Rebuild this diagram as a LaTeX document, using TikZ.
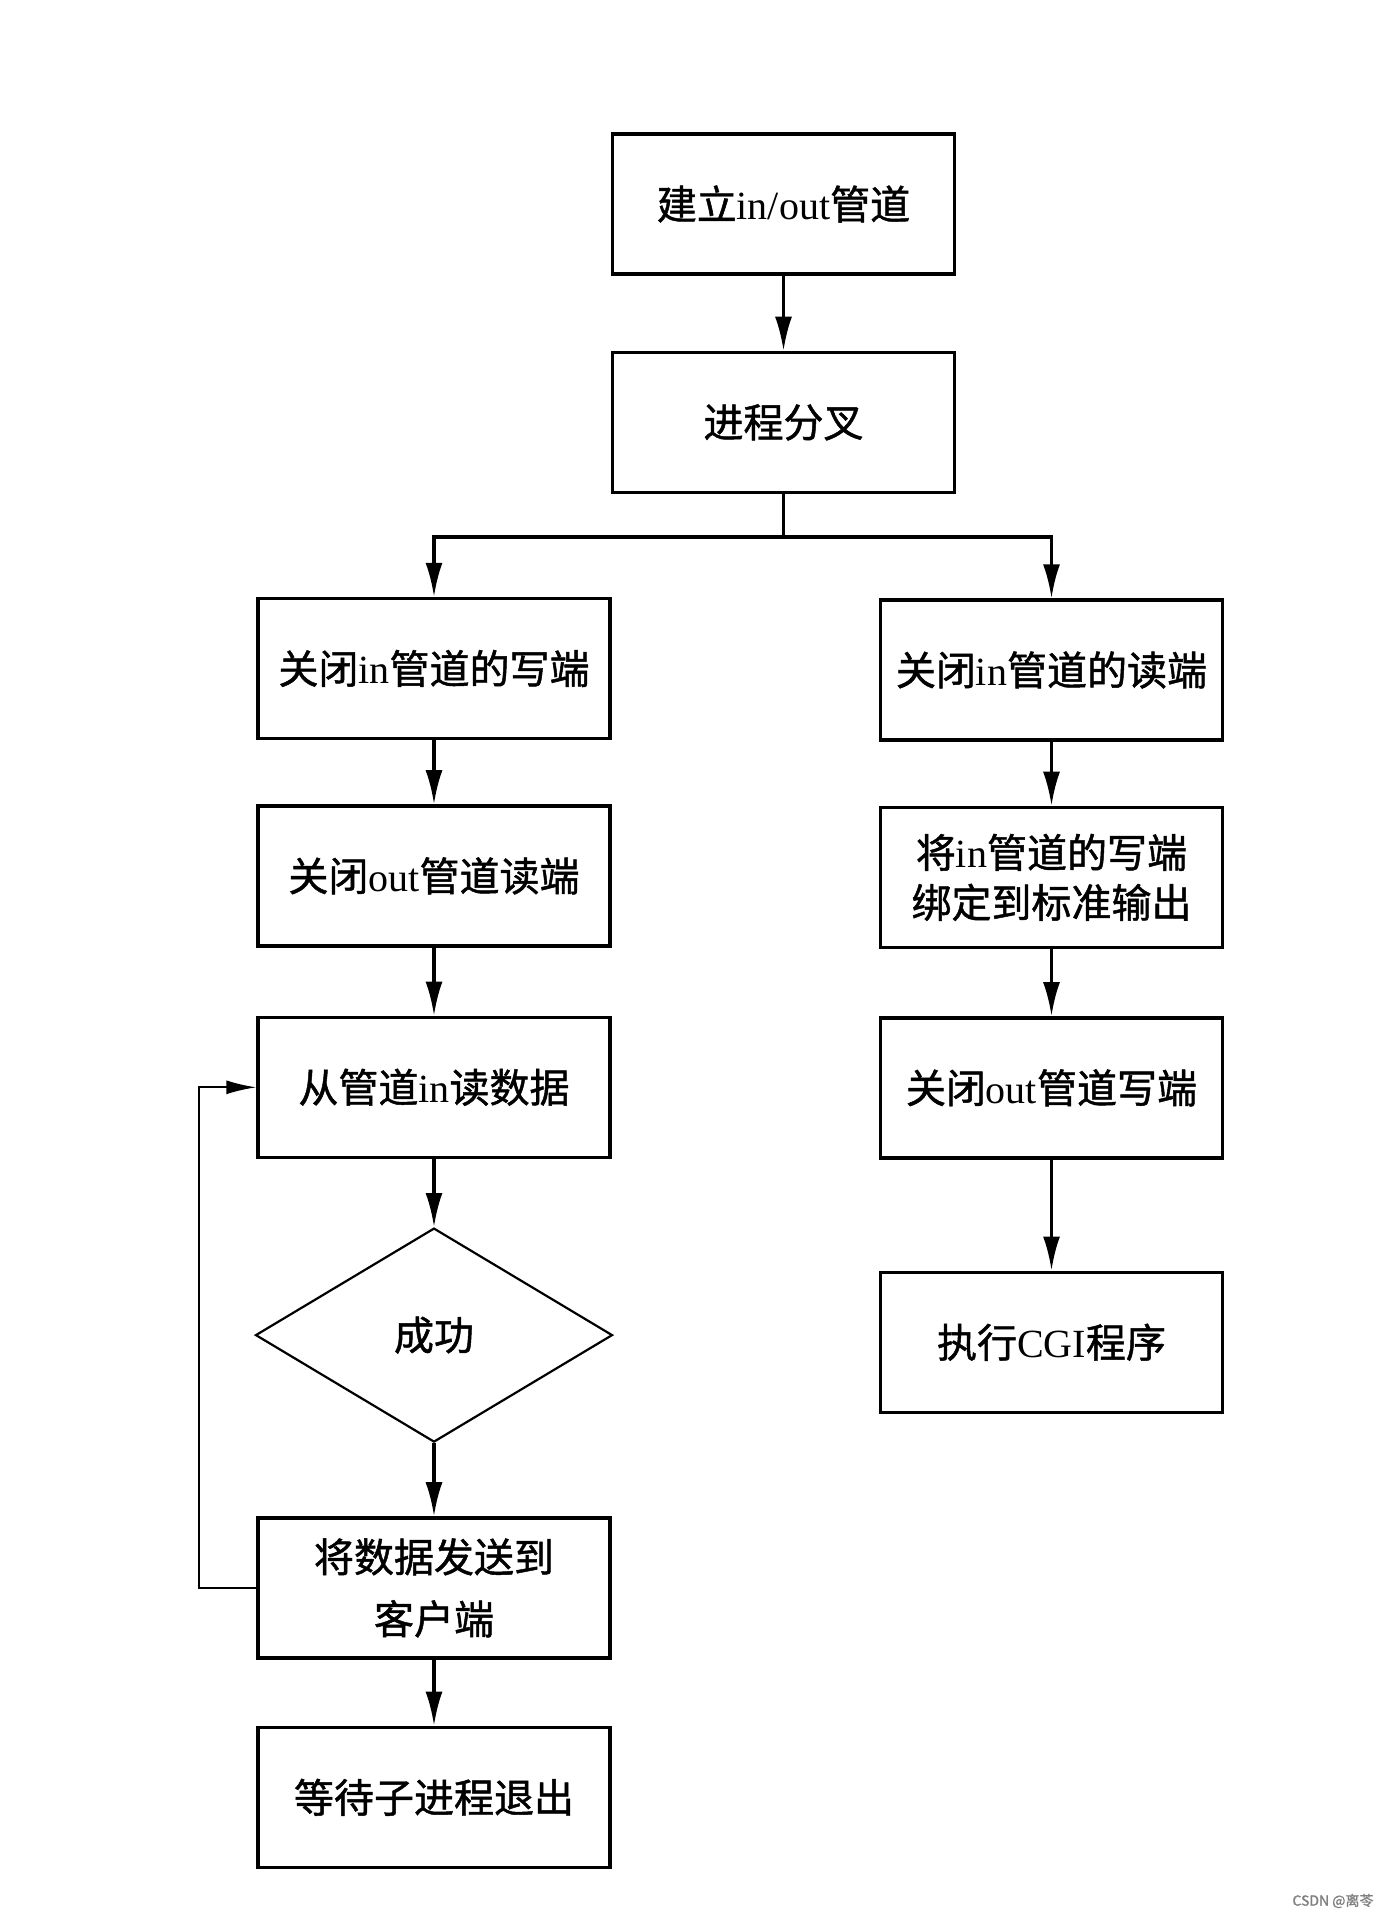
\documentclass[tikz,border=0pt]{standalone}
\usepackage{fontspec}
\setmainfont{Liberation Serif}
\newfontfamily\cjk{Noto Sans CJK SC}[FakeBold=1.2]
\usepackage{tikz}
\usetikzlibrary{arrows.meta}
\usetikzlibrary{shapes.geometric}
\usetikzlibrary{positioning}
\newcommand{\en}[1]{{\rmfamily #1}}

\begin{document}
\begin{tikzpicture}[x=0.5pt,y=-0.5pt,
                    ->,
                    >={Latex[length=17pt,width=8.5pt]},
                    line width=1.6pt,
                    stp/.style={rectangle,draw,line width=1.7pt,minimum width=171pt,minimum height=70pt,align=center,
                                font=\cjk\fontsize{20}{25}\selectfont},
                    dec/.style={diamond,draw,line width=1.1pt,minimum width=178.5pt,minimum height=107pt,inner sep=0pt,
                                font=\cjk\fontsize{20}{25}\selectfont},
                    %lft/.style={minimum width=176pt}
                    ]
\useasboundingbox (0,0) rectangle (1386,1920);

% top
  \node[stp] (1) at (783.5,204) {建立\en{in/out}管道};
  \node[stp] (2) [below =37.5pt of 1] {进程分叉};

% left column
  \node[stp,minimum width=176pt] (3) at (434,668.5) {关闭\en{in}管道的写端};
  \node[stp,minimum width=176pt] (4) [below =32pt of 3] {关闭\en{out}管道读端};
  \node[stp,minimum width=176pt] (5) [below =34pt of 4] {从管道\en{in}读数据};
  \node[dec] (6) [below =34pt of 5] {成功};
  \node[stp,minimum width=176pt] (7) [below =36.5pt of 6] {将数据发送到\\[6pt]客户端};
  \node[stp,minimum width=176pt] (8) [below =33pt of 7] {等待子进程退出};

% right column
  \node[stp] (9) at (1051.5,670) {关闭\en{in}管道的读端};
  \node[stp] (10) [below =32pt of 9] {将\en{in}管道的写端\\绑定到标准输出};
  \node[stp] (11) [below =33.5pt of 10] {关闭\en{out}管道写端};
  \node[stp] (12) [below =55.5pt of 11] {执行\en{CGI}程序};

% fork
\coordinate (fork) at (783.5,537);
\draw [-] (2) -- (fork);
\draw [->] (fork) -| (3);
\draw [->] (fork) -| (9);

\draw [->] (1) -- (2);
\draw [->] (3) -- (4);
\draw [->] (4) -- (5);
\draw [->] (5) -- (6);
\draw [->] (6) -- (7);
\draw [->] (7) -- (8);

\draw [->] (9) -- (10);
\draw [->] (10) -- (11);
\draw [->] (11) -- (12);

% loop back
\draw [->,line width=1pt,>={Latex[length=15pt,width=7pt]}] (7.west) -- ++(-57,0) |- (5.west);

\node[font=\cjk\fontsize{7}{8}\selectfont,text=gray] (13) at (1333,1901) {CSDN @离苓};
\end{tikzpicture}
\end{document}
